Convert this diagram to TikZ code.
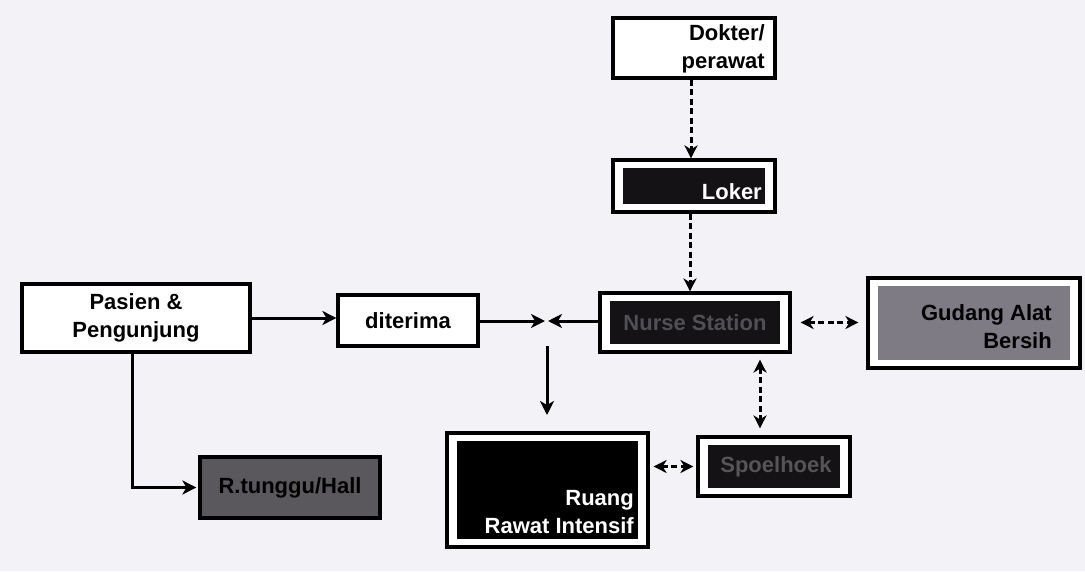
\documentclass[tikz,border=0pt]{standalone}
\usepackage{fontspec}
\setmainfont{Liberation Sans}
\usetikzlibrary{arrows.meta,calc}
\definecolor{paper}{HTML}{F3F3F7}
\definecolor{inkbox}{HTML}{141214}
\definecolor{stone}{HTML}{7E7B85}
\definecolor{slate}{HTML}{5A585C}
\definecolor{dimtext}{HTML}{505054}
\begin{document}
\begin{tikzpicture}[x=1pt,y=-1pt,
  font=\fontsize{22}{28}\selectfont\bfseries,
  box/.style={draw=black, line width=3.2pt, fill=white, inner sep=0pt},
  framed/.style={box, path picture={\fill[#1]
      ([shift={(10pt,-8pt)}]path picture bounding box.north west) rectangle
      ([shift={(-10pt,8pt)}]path picture bounding box.south east);}},
  lbl/.style={inner sep=0pt, align=right},
  flow/.style={line width=3pt, -{Stealth[length=14pt,width=14pt,inset=4pt]}},
  dflow/.style={line width=3pt, dash pattern=on 6pt off 3.5pt, -{Stealth[length=13pt,width=13pt,inset=4pt]}},
  ddflow/.style={line width=3pt, dash pattern=on 6pt off 3.5pt,
    {Stealth[length=13pt,width=13pt,inset=4pt]}-{Stealth[length=13pt,width=13pt,inset=4pt]}},
]
\useasboundingbox (0,0) rectangle (1085,571);
\fill[paper] (0,0) rectangle (1085,571);

% boxes
\node[box, minimum width=162pt, minimum height=60pt] (dok) at (694,48) {};
\node[lbl, anchor=east] (doktxt) at (765,49) {Dokter/\\perawat};

\node[framed=inkbox, minimum width=162pt, minimum height=52pt] (loker) at (694,186) {};
\node[lbl, anchor=east, text=white] (lokertxt) at (762,192) {Loker};

\node[framed=inkbox, minimum width=190pt, minimum height=59pt] (ns) at (695,322.5) {};
\node[lbl, text=dimtext] (nstxt) at (695,323) {Nurse Station};

\node[framed=stone, minimum width=212pt, minimum height=90pt] (gud) at (974,323) {};
\node[lbl, anchor=east] (gudtxt) at (1052,327) {Gudang Alat\\Bersih};

\node[box, minimum width=228pt, minimum height=68pt, align=center] (pas) at (136,318) {Pasien \&\\Pengunjung};

\node[box, minimum width=140pt, minimum height=51pt] (dit) at (408,320.5) {diterima};

\node[box, fill=slate, minimum width=180pt, minimum height=61pt] (rtg) at (290,487.5) {R.tunggu/Hall};

\node[framed=black, minimum width=201pt, minimum height=114pt] (rri) at (547.5,490) {};
\node[lbl, anchor=east, text=white] (rritxt) at (634,512) {Ruang\\Rawat Intensif};

\node[framed=inkbox, minimum width=152pt, minimum height=59pt] (spo) at (774,466.5) {};
\node[lbl, text=inkbox!72!white] (spotxt) at (776,467) {Spoelhoek};

% connectors
\coordinate (meet) at (545,321);
\coordinate (dropA) at (547,346);
\coordinate (dropB) at (547,415);

\draw[dflow] ([xshift=-3pt]dok.south) -- ([xshift=-3pt]loker.north);
\draw[dflow] ([xshift=-4pt]loker.south) -- ([xshift=-5pt]ns.north);
\draw[flow] (pas.east |- 0,318) -- (dit.west |- 0,318);
\draw[flow] (dit.east |- meet) -- (meet);
\draw[flow] (ns.west |- meet) -- ([xshift=3pt]meet);
\draw[flow] (dropA) -- (dropB);
\draw[ddflow, shorten <=9pt, shorten >=8pt] (ns.east) -- (gud.west |- ns.east);
\draw[ddflow, shorten <=6pt, shorten >=7pt] ([xshift=65pt]ns.south) -- ([xshift=-14pt]spo.north);
\draw[ddflow, shorten <=4pt, shorten >=3pt] (rri.east |- spo.west) -- (spo.west);
\draw[flow] ([xshift=-4pt]pas.south) |- ([xshift=-2pt]rtg.west);
\end{tikzpicture}
\end{document}
